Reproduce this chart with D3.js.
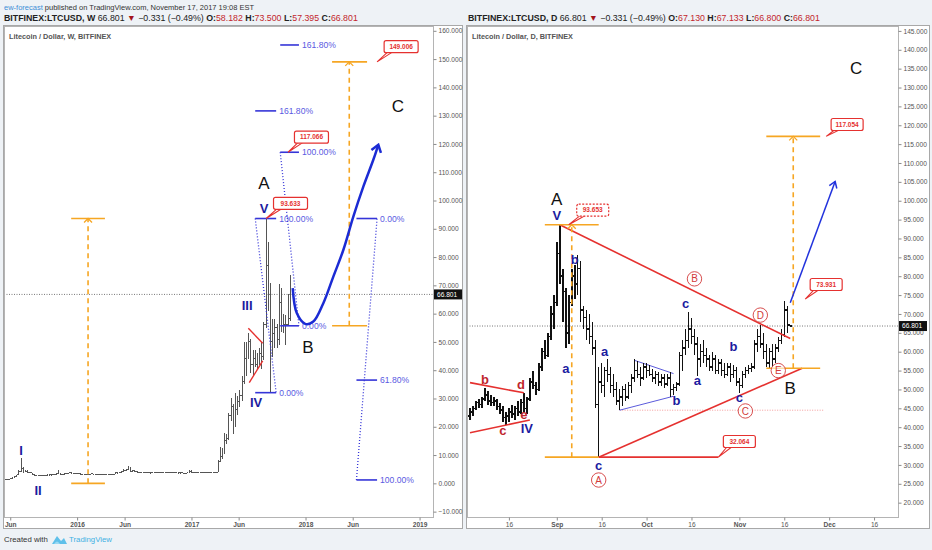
<!DOCTYPE html>
<html>
<head>
<meta charset="utf-8">
<script src="https://cdn.jsdelivr.net/npm/d3@7"></script>
<style>
  body { margin: 0; background: #eef2f6; }
  svg { display: block; font-family: "Liberation Sans", Arial, sans-serif; }
</style>
</head>
<body>
<div id="chart"></div>
<script>
// ---------- data ----------
// weekly LTCUSD bars, [open, high, low, close], one per week from weeklyStart
const weeklyStart = "2015-05-11";
const weeklyOHLC = [
  [1.55,1.62,1.45,1.50],[1.50,1.58,1.44,1.48],[1.48,1.55,1.40,1.52],[1.52,1.85,1.48,1.78],
  [1.78,2.05,1.70,1.98],[1.98,2.45,1.90,2.35],[2.35,3.10,2.25,2.95],[2.95,4.70,2.85,4.30],
  [4.30,8.90,3.90,5.20],[5.20,5.90,3.80,4.10],[4.10,4.70,3.90,4.30],[4.30,4.60,3.80,4.00],
  [4.00,4.10,3.55,3.70],[3.70,3.80,3.20,3.30],[3.30,3.40,2.60,2.80],[2.80,3.00,2.55,2.90],
  [2.90,3.00,2.78,2.88],[2.88,3.00,2.80,2.90],[2.90,3.00,2.70,2.80],[2.80,2.95,2.74,2.90],
  [2.90,3.00,2.85,2.95],[2.95,3.10,2.90,3.00],[3.00,3.10,2.95,3.05],[3.05,3.20,3.00,3.10],
  [3.10,3.50,3.00,3.40],[3.40,4.80,3.20,3.50],[3.50,3.60,2.90,3.10],[3.10,3.30,3.00,3.20],
  [3.20,3.50,3.10,3.40],[3.40,3.70,3.30,3.60],[3.60,4.00,3.50,3.80],[3.80,3.90,3.50,3.60],
  [3.60,3.70,3.40,3.50],[3.50,3.60,3.40,3.50],
  // 2016
  [3.50,3.60,3.30,3.50],[3.50,3.60,3.00,3.30],[3.30,3.40,3.10,3.20],[3.20,3.30,3.10,3.20],
  [3.20,3.30,3.10,3.20],[3.20,3.30,3.10,3.30],[3.30,3.50,3.20,3.40],[3.40,3.40,3.10,3.20],
  [3.20,3.30,3.00,3.10],[3.10,3.30,3.00,3.20],[3.20,3.30,3.10,3.20],[3.20,3.30,3.10,3.20],
  [3.20,3.30,3.10,3.20],[3.20,3.30,3.10,3.20],[3.20,3.30,3.10,3.20],[3.20,3.40,3.20,3.30],
  [3.30,3.40,3.20,3.30],[3.30,3.80,3.20,3.70],[3.70,3.80,3.60,3.70],[3.70,3.90,3.60,3.90],
  [3.90,4.20,3.80,4.10],[4.10,4.90,4.00,4.70],[4.70,5.20,4.50,5.00],[5.00,6.10,4.60,5.60],
  [5.60,5.70,4.10,4.30],[4.30,4.60,4.10,4.40],[4.40,4.50,3.90,4.10],[4.10,4.20,3.90,4.00],
  [4.00,4.10,3.90,4.00],[4.00,4.10,3.80,3.90],[3.90,4.00,3.60,3.70],[3.70,3.90,3.60,3.80],
  [3.80,3.85,3.60,3.70],[3.70,3.80,3.65,3.75],[3.75,3.90,3.70,3.80],[3.80,3.90,3.70,3.80],
  [3.80,3.90,3.75,3.80],[3.80,3.85,3.70,3.80],[3.80,3.90,3.75,3.85],[3.85,3.90,3.75,3.80],
  [3.80,3.85,3.75,3.80],[3.80,3.85,3.70,3.75],[3.75,4.00,3.70,3.90],[3.90,4.00,3.70,3.80],
  [3.80,3.90,3.70,3.80],[3.80,3.85,3.60,3.70],[3.70,3.80,3.60,3.70],[3.70,3.80,3.60,3.70],
  [3.70,3.80,3.50,3.60],[3.60,3.70,3.50,3.60],[3.60,4.00,3.50,3.90],[3.90,4.60,3.90,4.30],
  // 2017
  [4.30,4.60,3.50,3.90],[3.90,4.00,3.60,3.80],[3.80,3.90,3.70,3.80],[3.80,3.90,3.75,3.85],
  [3.85,4.00,3.80,3.90],[3.90,4.00,3.70,3.80],[3.80,3.90,3.75,3.80],[3.80,3.90,3.70,3.80],
  [3.80,4.00,3.70,3.90],[3.90,4.00,3.60,3.70],[3.70,3.90,3.60,3.80],[3.80,4.10,3.70,4.00],
  [4.00,8.40,3.90,7.80],[7.80,12.70,7.40,9.50],[9.50,12.50,8.60,11.00],[11.00,17.80,10.50,15.00],
  [15.00,17.50,13.80,16.00],[16.00,25.00,15.50,24.00],[24.00,30.00,22.00,27.00],[27.00,28.00,17.50,22.00],
  [22.00,32.00,20.00,26.00],[26.00,31.00,24.00,29.00],[29.00,33.00,27.00,31.00],[31.00,38.00,29.00,36.00],
  [36.00,50.00,35.00,44.00],[44.00,50.00,38.00,47.00],[47.00,53.00,44.00,50.00],[50.00,51.00,39.00,42.00],
  [42.00,47.00,38.00,44.00],[44.00,47.00,41.00,42.00],[42.00,46.00,40.00,44.00],[44.00,48.00,42.00,46.00],
  [46.00,50.00,40.50,45.00],[45.00,57.00,43.50,56.00],[56.00,93.63,55.00,77.00],[77.00,85.50,61.00,68.00],
  [68.00,71.00,32.06,50.00],[50.00,58.00,44.50,53.00],[53.00,58.00,48.00,55.00],[55.00,56.50,48.00,51.00],
  [51.00,70.60,49.00,64.00],[64.00,69.00,53.50,58.00],[58.00,60.00,53.00,56.00],[56.00,59.50,49.00,56.00],
  [56.00,67.00,55.50,58.20],[58.18,73.50,57.40,66.80]
];

// daily LTCUSD bars, [open, high, low, close], one per day from dailyStart
const dailyStart = "2017-08-03";
const dailyOHLC = [
  [43,45,42,44],[44,45.5,43,45],[45,47,44.5,46.5],[46.5,47.5,45,46],[46,48,45,47.5],
  [47.5,50.5,47,48.5],[48.5,49.5,46,47],[47,48.5,45.5,46.5],[46.5,48,45.5,47],[47,47.5,44.5,45.5],
  [45.5,46.5,43.5,44.5],[44.5,45.5,41.5,42.5],[42.5,44,40.5,43],[43,45,41.5,44],[44,46,42.5,43.5],
  [43.5,45.5,42,45],[45,47,43,44],[44,47.5,43.5,46.5],[46.5,49,44,45],[45,48,43.5,47.5],
  [47.5,53,47,52],[52,55,50,51],[51,52,48.5,50],[50,57,49.5,56],[56,61,55,60],
  [60,63,58,59],[59,65,58.5,64],[64,72,63,70],[70,75,66,73],
  // September
  [73,89,72,86],[86,93.65,78,80],[80,82,68,76],[76,77,61,65],[65,75,62,73],
  [73,82,72,80],[80,83,74,78],[78,85.5,75,82],[82,84,68,71],[71,72,66,69],
  [69,71,63,66],[66,70,62,64],[64,68,59,61],[61,63,45,46],[46,56,32.06,52],
  [52,57,49,51],[51,56,48,55],[55,58,52,54],[54,56,49,51],[51,54,48,50],
  [50,52,46,47],[47,50,44.5,48],[48,51,45.5,50],[50,51.5,47,48],[48,52,47.5,51],
  [51,54,49,53],[53,58,52,55],[55,57.5,53,54],[54,56,51,53],[53,57,52.5,56],
  // October
  [56,57,53,55],[55,56.5,53.5,54],[54,55.5,52,53],[53,55,51.5,54],[54,54.5,51,52],
  [52,54,51,53],[53,54,50.5,51.5],[51.5,54,51,53],[53,54.5,48,50],[50,51.5,48.5,50.5],
  [50.5,52,49.5,51.5],[51.5,60,51,59],[59,63,55,61],[61,66,59,63],[63,70.6,61,66],
  [66,69,62,64],[64,66,59,62],[62,64,53.5,58],[58,62,56,60],[60,63,57,59],
  [59,61,56,58],[58,59,55,56],[56,60,55,58],[58,59,54,55],[55,58,54,57],
  [57,58,53.5,55],[55,57,53,54],[54,57,53.5,56],[56,57,52,54],[54,56.5,53,55],
  [55,56,51,52],
  // November
  [52,53,49,51],[51,55,50.5,54],[54,56,53,55],[55,56.5,54,55.5],[55.5,57,54.5,56],
  [56,63,55.5,62],[62,66,60,64],[64,67,61,62],[62,65,58,60],[60,62,56,57],
  [57,61,55.5,60],[60,62,56,58],[58,62,57,61],[61,64,60,63],[63,66,62,64.5],
  [64.5,73.5,64,71],[71,72,65,67.1],[67.13,67.133,66.8,66.801]
];

const lastPrice = 66.801;

// axis ticks
const leftYTicks = d3.range(-10, 161, 10);
const rightYTicks = d3.range(20, 146, 5);
const leftXTicks = [["2015-06-01","Jun"],["2016-01-01","2016"],["2016-06-01","Jun"],["2017-01-01","2017"],
                    ["2017-06-01","Jun"],["2018-01-01","2018"],["2018-06-01","Jun"],["2019-01-01","2019"]];
const rightXTicks = [["2017-08-16","16"],["2017-09-01","Sep"],["2017-09-16","16"],["2017-10-01","Oct"],
                     ["2017-10-16","16"],["2017-11-01","Nov"],["2017-11-16","16"],["2017-12-01","Dec"],["2017-12-16","16"]];

// weekly chart drawings (date, price)
const leftMeasures = [
  { from: "2015-12-13", to: "2016-03-30", at: "2016-02-05", low: 0, high: 93.63 },
  { from: "2018-03-27", to: "2018-07-17", at: "2018-05-21", low: 55.7, high: 149.006 }
];
const leftFibs = [
  { from: "2017-07-24", to: "2017-09-29", p0: 32.06, p1: 93.633, levels: [0, 1, 1.618] },
  { from: "2017-10-12", to: "2017-12-11", p0: 55.7, p1: 117.066, levels: [0, 1, 1.618] },
  { from: "2018-06-13", to: "2018-08-18", p0: 93.633, p1: 1.2, levels: [0, 0.618, 1] }
];
const leftCallouts = [
  { at: "2018-08-18", price: 149.006, box: "2018-11-03", boxPrice: 154.4, text: "149.006" },
  { at: "2017-11-06", price: 117.066, box: "2018-01-20", boxPrice: 122.4, text: "117.066" },
  { at: "2017-08-28", price: 93.633, box: "2017-11-14", boxPrice: 99.0, text: "93.633" }
];
const leftProjection = [
  ["2017-11-21",69.0],["2017-12-04",60.2],["2017-12-31",56.4],["2018-01-26",57.2],["2018-02-27",63.7],
  ["2018-03-31",73.1],["2018-05-02",82.5],["2018-06-03",94.3],["2018-07-05",104.9],["2018-08-06",114.4],
  ["2018-08-22",119.7]
];
const leftRedLines = [
  [["2017-07-02",54.8],["2017-08-17",49.5]],
  [["2017-07-05",35.6],["2017-08-17",43.3]]
];
const leftBlueLabels = [["I","2015-07-06",11.8],["II","2015-08-29",-2.4],["III","2017-06-28",62.8],
                        ["IV","2017-07-27",28.8],["V","2017-08-21",97.1]];
const leftBlackLabels = [["A","2017-08-21",106.3],["B","2018-01-09",48.3],["C","2018-10-24",133.5]];

// daily chart drawings (date, price)
const rightMeasures = [
  { from: "2017-08-28", to: "2017-09-15", at: "2017-09-06", low: 32.06, high: 93.653 },
  { from: "2017-11-10", to: "2017-11-28", at: "2017-11-19", low: 55.6, high: 117.054 }
];
const rightCallouts = [
  { at: "2017-09-05", price: 93.653, box: "2017-09-13", boxPrice: 97.5, text: "93.653", dashed: true },
  { at: "2017-11-30", price: 117.054, box: "2017-12-07", boxPrice: 120.2, text: "117.054" },
  { at: "2017-11-23", price: 73.931, box: "2017-11-30", boxPrice: 77.8, text: "73.931" },
  { at: "2017-10-25", price: 32.064, box: "2017-11-01", boxPrice: 36.2, text: "32.064" }
];
const rightRedLines = [
  [["2017-09-02",93.65],["2017-11-18",63.5]],
  [["2017-09-15",32.06],["2017-11-22",55.6]],
  [["2017-09-15",32.06],["2017-10-25",32.06]],
  [["2017-08-03",51.8],["2017-08-21",49.1]],
  [["2017-08-03",38.5],["2017-08-23",41.9]]
];
const rightBlueLines = [
  [["2017-09-27",57.7],["2017-10-10",54.2]],
  [["2017-09-22",44.5],["2017-10-10",48.2]]
];
const rightDotted = [["2017-09-22",44.5],["2017-11-29",44.5]];
const rightArrow = [["2017-11-18",73.0],["2017-12-03",105.1]];
const rightRedLabels = [["b","2017-08-08",52.7],["c","2017-08-14",39.3],["d","2017-08-20",51.4],["e","2017-08-21",43.5]];
const rightBlueLabels = [["IV","2017-08-22",39.7],["V","2017-09-01",96.2],["a","2017-09-04",55.6],["b","2017-09-07",84.5],
                         ["a","2017-09-17",60.0],["c","2017-09-15",30.0],["b","2017-10-11",47.2],["c","2017-10-14",72.8],
                         ["a","2017-10-18",52.3],["b","2017-10-30",61.3],["c","2017-11-01",47.9]];
const rightCircled = [["A","2017-09-15",26.0],["B","2017-10-17",79.3],["C","2017-11-03",44.3],
                      ["D","2017-11-08",69.7],["E","2017-11-14",55.0]];
const rightBlackLabels = [["A","2017-09-01",100.6],["B","2017-11-18",50.3],["C","2017-12-10",135.2]];

// ---------- drawing ----------
const D = d3.utcParse("%Y-%m-%d");
const ORANGE = "#f6a623", RED = "#e5312f", WAVE_BLUE = "#1c1ca0", WAVE_RED = "#c0272d", FIB = "#3535d8";

const svg = d3.select("#chart").append("svg").attr("width", 932).attr("height", 550);
svg.append("rect").attr("width", 932).attr("height", 550).attr("fill", "#eef2f6");

const defs = svg.append("defs");
function chevron(id, color, len, half, sw) {
  defs.append("marker").attr("id", id)
    .attr("viewBox", `${-len - 2} ${-half - 2} ${len + 4} ${2 * half + 4}`)
    .attr("refX", 0).attr("refY", 0)
    .attr("markerWidth", len + 4).attr("markerHeight", 2 * half + 4)
    .attr("markerUnits", "userSpaceOnUse").attr("orient", "auto")
    .append("path").attr("d", `M${-len},${-half}L0,0L${-len},${half}`)
    .attr("fill", "none").attr("stroke", color).attr("stroke-width", sw);
}
chevron("arrOrange", ORANGE, 4, 4, 1.3);
chevron("arrBlueThick", "#1b2bd4", 7, 5, 2.5);
chevron("arrBlue", "#2233dd", 6, 4, 1.5);

// header
const head = svg.append("g");
const h1 = head.append("text").attr("x", 4).attr("y", 9.5).attr("font-size", 7.5);
h1.append("tspan").attr("fill", "#3d8fd6").text("ew-forecast");
h1.append("tspan").attr("fill", "#333").text(" published on TradingView.com, November 17, 2017 19:08 EST");

function quoteLine(x, tf, o, h, l, c) {
  const t = head.append("text").attr("x", x).attr("y", 20.5).attr("font-size", 8.8).attr("fill", "#222");
  t.append("tspan").attr("font-weight", "bold").text(`BITFINEX:LTCUSD, ${tf}`);
  t.append("tspan").text(" 66.801 ");
  t.append("tspan").attr("fill", "#a3141b").text("▼");
  t.append("tspan").text(" −0.331 (−0.49%) ");
  [["O:", o], [" H:", h], [" L:", l], [" C:", c]].forEach(([k, v]) => {
    t.append("tspan").attr("font-weight", "bold").text(k);
    t.append("tspan").attr("fill", "#c3262c").text(v);
  });
}
quoteLine(4, "W", "58.182", "73.500", "57.395", "66.801");
quoteLine(468, "D", "67.130", "67.133", "66.800", "66.801");

// footer
const foot = svg.append("g").attr("font-size", 7.8);
foot.append("text").attr("x", 4).attr("y", 542).attr("fill", "#333").text("Created with");
foot.append("path").attr("d", "M52,544 L57,536 L61,541 L64,538 L67,544 Z").attr("fill", "#5fc0ea");
foot.append("path").attr("d", "M54,544 Q57,539 60,544 Z").attr("fill", "#9ad9f3");
foot.append("text").attr("x", 69).attr("y", 542).attr("fill", "#3fb1e3").text("TradingView");

function makePanel(cfg) {
  const g = svg.append("g");
  g.append("rect").attr("x", cfg.fx0 + 0.5).attr("y", cfg.fy0 + 0.5)
    .attr("width", cfg.fx1 - cfg.fx0).attr("height", cfg.fy1 - cfg.fy0)
    .attr("fill", "#fff").attr("stroke", "#a8a8a8");
  g.append("rect").attr("x", cfg.x0 + 0.5).attr("y", cfg.y0 + 0.5)
    .attr("width", cfg.x1 - cfg.x0).attr("height", cfg.y1 - cfg.y0)
    .attr("fill", "none").attr("stroke", "#b4b4b4");

  const x = d3.scaleUtc().domain(cfg.dates.map(D)).range([cfg.x0, cfg.x1]);
  const y = d3.scaleLinear().domain(cfg.prices).range([cfg.y1, cfg.y0]);

  // y axis
  g.append("g").attr("transform", `translate(${cfg.x1 + 0.5},0)`)
    .call(d3.axisRight(y).tickValues(cfg.yTicks).tickFormat(d3.format(".3f")).tickSize(3).tickPadding(2))
    .attr("font-size", 6.6).attr("font-family", null)
    .call(a => a.select(".domain").remove())
    .call(a => a.selectAll("line").attr("stroke", "#8a8a8a"))
    .call(a => a.selectAll("text").attr("fill", "#555"));

  // x axis
  const xa = g.append("g").attr("transform", `translate(0,${cfg.y1 + 0.5})`)
    .call(d3.axisBottom(x).tickValues(cfg.xTicks.map(t => D(t[0])))
      .tickFormat((d, i) => cfg.xTicks[i][1]).tickSize(3).tickPadding(1.5))
    .attr("font-size", 6.6).attr("font-family", null);
  xa.select(".domain").remove();
  xa.selectAll("line").attr("stroke", "#8a8a8a");
  xa.selectAll("text").attr("fill", "#555")
    .attr("font-weight", (d, i) => /^\d+$/.test(cfg.xTicks[i][1]) && cfg.xTicks[i][1].length < 4 ? "normal" : "bold");

  // title
  g.append("text").attr("x", cfg.x0 + 5).attr("y", cfg.y0 + 12.5)
    .attr("font-size", 7.3).attr("font-weight", "bold").attr("fill", "#555").text(cfg.title);

  const plot = g.append("g");
  plot.append("clipPath").attr("id", cfg.id + "clip").append("rect")
    .attr("x", cfg.x0 + 1).attr("y", cfg.y0 + 1).attr("width", cfg.x1 - cfg.x0 - 1).attr("height", cfg.y1 - cfg.y0 - 1);
  const inner = plot.append("g").attr("clip-path", `url(#${cfg.id}clip)`);

  // last price line
  inner.append("line").attr("x1", cfg.x0).attr("x2", cfg.x1)
    .attr("y1", y(lastPrice)).attr("y2", y(lastPrice))
    .attr("stroke", "#555").attr("stroke-width", 0.8).attr("stroke-dasharray", "1,1.5");
  g.append("rect").attr("x", cfg.x1 + 1).attr("y", y(lastPrice) - 5).attr("width", 28).attr("height", 10).attr("fill", "#111");
  g.append("text").attr("x", cfg.x1 + 4).attr("y", y(lastPrice)).attr("dy", "0.35em")
    .attr("font-size", 6.6).attr("fill", "#fff").text(d3.format(".3f")(lastPrice));

  return { g, inner, x, y };
}

function drawOHLC(p, start, stepDays, rows, color, sw, tick) {
  const t0 = D(start);
  const data = rows.map((r, i) => ({ d: d3.utcDay.offset(t0, i * stepDays), o: r[0], h: r[1], l: r[2], c: r[3] }));
  const gb = p.inner.append("g").attr("stroke", color).attr("stroke-width", sw).attr("shape-rendering", "crispEdges");
  gb.selectAll("line.hl").data(data).join("line").attr("class", "hl")
    .attr("x1", d => p.x(d.d)).attr("x2", d => p.x(d.d))
    .attr("y1", d => p.y(d.h)).attr("y2", d => Math.max(p.y(d.l), p.y(d.h) + 1));
  gb.selectAll("line.op").data(data).join("line").attr("class", "op")
    .attr("x1", d => p.x(d.d) - tick).attr("x2", d => p.x(d.d))
    .attr("y1", d => p.y(d.o)).attr("y2", d => p.y(d.o));
  gb.selectAll("line.cl").data(data).join("line").attr("class", "cl")
    .attr("x1", d => p.x(d.d)).attr("x2", d => p.x(d.d) + tick)
    .attr("y1", d => p.y(d.c)).attr("y2", d => p.y(d.c));
}

function seg(p, a, b, stroke, sw, dash) {
  return p.inner.append("line")
    .attr("x1", p.x(D(a[0]))).attr("y1", p.y(a[1]))
    .attr("x2", p.x(D(b[0]))).attr("y2", p.y(b[1]))
    .attr("stroke", stroke).attr("stroke-width", sw).attr("stroke-dasharray", dash || null);
}

function measures(p, list) {
  list.forEach(m => {
    seg(p, [m.from, m.high], [m.to, m.high], ORANGE, 1.6);
    seg(p, [m.from, m.low], [m.to, m.low], ORANGE, 1.6);
    seg(p, [m.at, m.low], [m.at, m.high], ORANGE, 1.6, "5,4").attr("marker-end", "url(#arrOrange)");
  });
}

function callouts(p, list, w) {
  list.forEach(c => {
    const ax = p.x(D(c.at)), ay = p.y(c.price);
    const bx = p.x(D(c.box)), by = p.y(c.boxPrice);
    const left = bx - w / 2, bottom = by + 6;
    p.inner.append("path")
      .attr("d", `M${left + 4},${bottom - 1}L${ax},${ay}L${left + 9},${bottom - 1}`)
      .attr("fill", "#fff").attr("stroke", RED).attr("stroke-width", 1.1);
    p.inner.append("rect").attr("x", left).attr("y", by - 6).attr("width", w).attr("height", 12).attr("rx", 2)
      .attr("fill", "#fff").attr("stroke", RED).attr("stroke-width", 1.2)
      .attr("stroke-dasharray", c.dashed ? "2,1.5" : null);
    p.inner.append("text").attr("x", bx).attr("y", by).attr("dy", "0.35em").attr("text-anchor", "middle")
      .attr("font-size", 6.5).attr("font-weight", "bold").attr("fill", RED).text(c.text);
  });
}

function labels(p, list, color, size, weight) {
  p.inner.selectAll(null).data(list).join("text")
    .attr("x", d => p.x(D(d[1]))).attr("y", d => p.y(d[2])).attr("dy", "0.36em")
    .attr("text-anchor", "middle").attr("font-size", size).attr("font-weight", weight)
    .attr("fill", color).text(d => d[0]);
}

// ---------- left: weekly ----------
const L = makePanel({
  id: "w", fx0: 3, fy0: 25, fx1: 462, fy1: 528, x0: 4, y0: 26, x1: 433, y1: 517,
  dates: ["2015-05-12", "2019-02-13"], prices: [-11.9, 161.7],
  yTicks: leftYTicks, xTicks: leftXTicks, title: "Litecoin / Dollar, W, BITFINEX"
});
drawOHLC(L, weeklyStart, 7, weeklyOHLC, "#555", 1, 1);
measures(L, leftMeasures);
leftRedLines.forEach(s => seg(L, s[0], s[1], RED, 1.4));

leftFibs.forEach(f => {
  const lv = f.levels.map(k => ({ k, p: f.p0 + (f.p1 - f.p0) * k }));
  seg(L, [f.from, f.p1], [f.to, f.p0], FIB, 1.3, "1,2");
  lv.forEach(l => {
    seg(L, [f.from, l.p], [f.to, l.p], FIB, 1.6);
    L.inner.append("text").attr("x", L.x(D(f.to)) + 3).attr("y", L.y(l.p)).attr("dy", "0.35em")
      .attr("font-size", 8.6).attr("fill", "#5a5ae2").text(d3.format(".2f")(l.k * 100) + "%");
  });
});

L.inner.append("path").datum(leftProjection)
  .attr("d", d3.line().x(d => L.x(D(d[0]))).y(d => L.y(d[1])).curve(d3.curveCatmullRom))
  .attr("fill", "none").attr("stroke", "#1b2bd4").attr("stroke-width", 2.5)
  .attr("marker-end", "url(#arrBlueThick)");

callouts(L, leftCallouts, 34);
labels(L, leftBlueLabels, WAVE_BLUE, 13, "bold");
labels(L, leftBlackLabels, "#111", 17, "normal");

// ---------- right: daily ----------
const R = makePanel({
  id: "d", fx0: 466, fy0: 25, fx1: 929, fy1: 528, x0: 467, y0: 26, x1: 898, y1: 517,
  dates: ["2017-08-02", "2017-12-24"], prices: [16.2, 146.3],
  yTicks: rightYTicks, xTicks: rightXTicks, title: "Litecoin / Dollar, D, BITFINEX"
});
seg(R, rightDotted[0], rightDotted[1], "#f08080", 0.8, "1,1.5");
rightBlueLines.forEach(s => seg(R, s[0], s[1], "#5b5bdc", 1));
drawOHLC(R, dailyStart, 1, dailyOHLC, "#111", 1.5, 1.5);
rightRedLines.forEach(s => seg(R, s[0], s[1], RED, 1.6));
measures(R, rightMeasures);
seg(R, rightArrow[0], rightArrow[1], "#2233dd", 1.5).attr("marker-end", "url(#arrBlue)");
callouts(R, rightCallouts, 32);

R.inner.selectAll(null).data(rightCircled).join("circle")
  .attr("cx", d => R.x(D(d[1]))).attr("cy", d => R.y(d[2])).attr("r", 7.2)
  .attr("fill", "#fff").attr("fill-opacity", 0.6).attr("stroke", "#d23a3a").attr("stroke-width", 0.9);
labels(R, rightCircled, "#d23a3a", 10, "normal");
labels(R, rightRedLabels, WAVE_RED, 13, "bold");
labels(R, rightBlueLabels, WAVE_BLUE, 13, "bold");
labels(R, rightBlackLabels, "#111", 17, "normal");
</script>
</body>
</html>
